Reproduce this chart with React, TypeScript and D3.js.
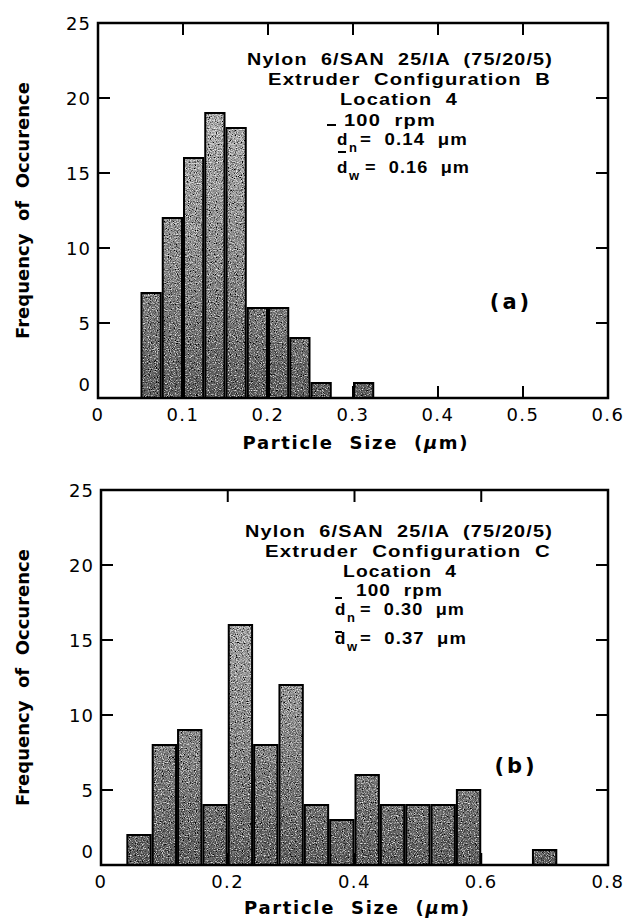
import React from "react";
import * as d3 from "d3";

// ---- data: particle size histograms ----
const binStartsA = [0.05, 0.075, 0.1, 0.125, 0.15, 0.175, 0.2, 0.225, 0.25, 0.275, 0.3];
const countsA = [7, 12, 16, 19, 18, 6, 6, 4, 1, 0, 1];
const binWidthA = 0.025;
const xTicksA = [0, 0.1, 0.2, 0.3, 0.4, 0.5, 0.6];

const binStartsB = [0.04, 0.08, 0.12, 0.16, 0.2, 0.24, 0.28, 0.32, 0.36, 0.4, 0.44, 0.48, 0.52, 0.56, 0.6, 0.64, 0.68];
const countsB = [2, 8, 9, 4, 16, 8, 12, 4, 3, 6, 4, 4, 4, 5, 0, 0, 1];
const binWidthB = 0.04;
const xTicksB = [0, 0.2, 0.4, 0.6, 0.8];

const yTicks = [0, 5, 10, 15, 20, 25];

const notesA = ["Nylon  6/SAN  25/IA  (75/20/5)", "Extruder  Configuration  B", "Location  4", "100  rpm"];
const meansA = ["0.14", "0.16"];
const notesB = ["Nylon  6/SAN  25/IA  (75/20/5)", "Extruder  Configuration  C", "Location  4", "100  rpm"];
const meansB = ["0.30", "0.37"];

const TICK_FONT = "'DejaVu Sans', Verdana, sans-serif";
const NOTE_FONT = "'Liberation Sans', Arial, Helvetica, sans-serif";

type Frame = { left: number; right: number; top: number; bottom: number };
type NoteLayout = {
  lines: [number, number, number][]; // x start, x end, baseline
  dX: number;
  dn: { y: number; subDx: number; eq: [number, number] };
  dw: { y: number; subDx: number; eq: [number, number] };
  bars: [number, number, number][]; // x1, x2, y
};

const pre = { whiteSpace: "pre" as const };

function Panel(props: {
  id: string;
  starts: number[];
  counts: number[];
  binWidth: number;
  xTicks: number[];
  frame: Frame;
  notes: string[];
  means: string[];
  layout: NoteLayout;
  letter: string;
  letterPos: [number, number];
  titleY: number;
}) {
  const { id, starts, counts, binWidth, xTicks, frame, notes, means, layout, letter, letterPos, titleY } = props;
  const xMax = xTicks[xTicks.length - 1];
  const x = d3.scaleLinear().domain([0, xMax]).range([frame.left, frame.right]);
  const y = d3.scaleLinear().domain([0, 25]).range([frame.bottom, frame.top]);
  const tickLen = 12;
  const inner = xTicks.slice(1, -1);
  const innerY = yTicks.slice(1, -1);
  const cx = (frame.left + frame.right) / 2;
  const cy = (frame.top + frame.bottom) / 2;

  const barRect = (s: number, c: number) => ({
    x: x(s) + 1,
    y: y(c),
    width: x(s + binWidth) - x(s) - 2,
    height: y(0) - y(c),
  });

  const fitted = (content: React.ReactNode, x1: number, x2: number, yb: number, key?: string | number) => (
    <text
      key={key}
      x={x1}
      y={yb}
      textLength={x2 - x1}
      lengthAdjust="spacingAndGlyphs"
      xmlSpace="preserve"
      style={pre}
    >
      {content}
    </text>
  );

  return (
    <g>
      <defs>
        <linearGradient id={`shade-${id}`} gradientUnits="userSpaceOnUse" x1={0} x2={0} y1={y(20)} y2={y(0)}>
          <stop offset="0" stopColor="#c8c8c8" />
          <stop offset="0.55" stopColor="#9c9c9c" />
          <stop offset="1" stopColor="#6a6a6a" />
        </linearGradient>
      </defs>

      {/* bars */}
      <g filter="url(#grain)">
        {starts.map((s, i) =>
          counts[i] > 0 ? <rect key={i} {...barRect(s, counts[i])} fill={`url(#shade-${id})`} /> : null
        )}
      </g>
      <g fill="none" stroke="#000" strokeWidth={2}>
        {starts.map((s, i) => (counts[i] > 0 ? <rect key={i} {...barRect(s, counts[i])} /> : null))}
      </g>

      {/* frame and inward ticks */}
      <rect
        x={frame.left}
        y={frame.top}
        width={frame.right - frame.left}
        height={frame.bottom - frame.top}
        fill="none"
        stroke="#000"
        strokeWidth={2.5}
      />
      <g stroke="#000" strokeWidth={2}>
        {inner.map((t) => (
          <g key={`xt${t}`}>
            <line x1={x(t)} x2={x(t)} y1={frame.top} y2={frame.top + tickLen} />
            <line x1={x(t)} x2={x(t)} y1={frame.bottom} y2={frame.bottom - tickLen} />
          </g>
        ))}
        {innerY.map((t) => (
          <g key={`yt${t}`}>
            <line x1={frame.left} x2={frame.left + tickLen} y1={y(t)} y2={y(t)} />
            <line x1={frame.right} x2={frame.right - tickLen} y1={y(t)} y2={y(t)} />
          </g>
        ))}
      </g>

      {/* tick labels */}
      <g fontFamily={TICK_FONT} fontSize={18} fill="#000">
        {yTicks.map((t) => (
          <text
            key={`yl${t}`}
            x={frame.left - 7}
            y={t === 0 ? y(t) - 7 : y(t) + 6.5}
            textAnchor="end"
            letterSpacing={1}
          >
            {String(t)}
          </text>
        ))}
        {xTicks.map((t) => (
          <text key={`xl${t}`} x={x(t)} y={frame.bottom + 23} textAnchor="middle" letterSpacing={1.5}>
            {String(t)}
          </text>
        ))}
      </g>

      {/* axis titles */}
      <text
        x={cx + 2}
        y={titleY}
        textAnchor="middle"
        fontFamily={TICK_FONT}
        fontWeight="bold"
        fontSize={18}
        textLength={225}
        lengthAdjust="spacing"
        xmlSpace="preserve"
        style={pre}
      >
        {"Particle  Size  ("}
        <tspan fontStyle="italic">μ</tspan>
        {"m)"}
      </text>
      <text
        transform={`translate(29, ${cy}) rotate(-90)`}
        textAnchor="middle"
        fontFamily={TICK_FONT}
        fontWeight="bold"
        fontSize={18}
        textLength={257}
        lengthAdjust="spacing"
        xmlSpace="preserve"
        style={pre}
      >
        {"Frequency  of  Occurence"}
      </text>

      {/* sample description */}
      <g fontFamily={NOTE_FONT} fontWeight="bold" fontSize={17} letterSpacing={1} fill="#000">
        {notes.map((n, i) => {
          const [x1, x2, yb] = layout.lines[i];
          return fitted(n, x1, x2, yb, i);
        })}
        <text x={layout.dX} y={layout.dn.y}>d</text>
        <text x={layout.dX + layout.dn.subDx} y={layout.dn.y + 7} fontSize={13}>n</text>
        {fitted(`=  ${means[0]}  μm`, layout.dn.eq[0], layout.dn.eq[1], layout.dn.y, "dn")}
        <text x={layout.dX} y={layout.dw.y}>d</text>
        <text x={layout.dX + layout.dw.subDx} y={layout.dw.y + 7} fontSize={13}>w</text>
        {fitted(`=  ${means[1]}  μm`, layout.dw.eq[0], layout.dw.eq[1], layout.dw.y, "dw")}
      </g>
      <g stroke="#000" strokeWidth={2}>
        {layout.bars.map(([x1, x2, yb], i) => (
          <line key={i} x1={x1} x2={x2} y1={yb} y2={yb} />
        ))}
      </g>

      <text
        x={letterPos[0]}
        y={letterPos[1]}
        textAnchor="middle"
        fontFamily={TICK_FONT}
        fontWeight="bold"
        fontSize={21}
        letterSpacing={3}
      >
        {letter}
      </text>
    </g>
  );
}

const frameA: Frame = { left: 98, right: 608, top: 23, bottom: 398 };
const frameB: Frame = { left: 101, right: 608, top: 490, bottom: 865 };

const layoutA: NoteLayout = {
  lines: [
    [247, 553, 65],
    [268, 551, 85],
    [340, 458, 105],
    [344, 436, 126],
  ],
  dX: 337,
  dn: { y: 145, subDx: 12, eq: [360, 468] },
  dw: { y: 173, subDx: 12, eq: [365, 470] },
  bars: [
    [327, 336, 125],
    [338, 346, 152],
  ],
};

const layoutB: NoteLayout = {
  lines: [
    [245, 553, 537],
    [265, 551, 557],
    [343, 457, 577],
    [356, 443, 596],
  ],
  dX: 335,
  dn: { y: 615, subDx: 12, eq: [360, 465] },
  dw: { y: 644, subDx: 12, eq: [360, 467] },
  bars: [
    [335, 342, 598],
    [335, 342, 632],
  ],
};

export default function App() {
  return (
    <svg
      width={630}
      height={920}
      viewBox="0 0 630 920"
      style={{ position: "absolute", left: 0, top: 0, display: "block", background: "#fff" }}
    >
      <defs>
        <filter id="grain" filterUnits="userSpaceOnUse" x={0} y={0} width={630} height={920}>
          <feTurbulence type="fractalNoise" baseFrequency="0.85" numOctaves={2} seed={7} result="noise" />
          <feColorMatrix
            in="noise"
            type="matrix"
            values="0 0 0 0 0  0 0 0 0 0  0 0 0 0 0  3 0 0 0 -1.25"
            result="dark"
          />
          <feComposite in="dark" in2="SourceGraphic" operator="in" result="darkIn" />
          <feColorMatrix
            in="noise"
            type="matrix"
            values="0 0 0 0 1  0 0 0 0 1  0 0 0 0 1  -3 0 0 0 1.3"
            result="light"
          />
          <feComposite in="light" in2="SourceGraphic" operator="in" result="lightIn" />
          <feMerge>
            <feMergeNode in="SourceGraphic" />
            <feMergeNode in="darkIn" />
            <feMergeNode in="lightIn" />
          </feMerge>
        </filter>
      </defs>
      <rect width={630} height={920} fill="#fff" />
      <Panel
        id="a"
        starts={binStartsA}
        counts={countsA}
        binWidth={binWidthA}
        xTicks={xTicksA}
        frame={frameA}
        notes={notesA}
        means={meansA}
        layout={layoutA}
        letter="(a)"
        letterPos={[511, 309]}
        titleY={449}
      />
      <Panel
        id="b"
        starts={binStartsB}
        counts={countsB}
        binWidth={binWidthB}
        xTicks={xTicksB}
        frame={frameB}
        notes={notesB}
        means={meansB}
        layout={layoutB}
        letter="(b)"
        letterPos={[516, 773]}
        titleY={914}
      />
    </svg>
  );
}
